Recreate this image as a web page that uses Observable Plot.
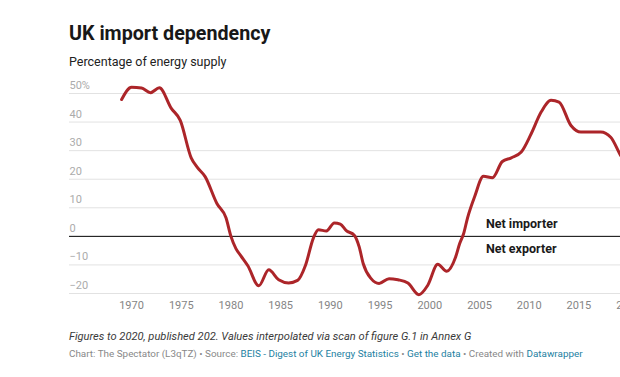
<!DOCTYPE html>
<html>
<head>
<meta charset="utf-8">
<script src="https://cdn.jsdelivr.net/npm/d3@7"></script>
<script src="https://cdn.jsdelivr.net/npm/@observablehq/plot@0.6"></script>
<style>
  html, body { margin: 0; padding: 0; background: #fff; overflow: hidden; }
  #wrap { position: relative; width: 620px; height: 377px; overflow: hidden; font-family: Roboto, sans-serif; }
  .t { position: absolute; left: 69px; white-space: nowrap; line-height: 1; }
  #title { top: 24px; font-size: 19.7px; font-weight: 700; color: #181818; }
  #subtitle { top: 56px; font-size: 12.5px; color: #222; }
  #note { top: 331px; font-size: 11.1px; font-style: italic; color: #3a3a3a; }
  #credit { top: 349px; font-size: 9.9px; color: #888; }
  #credit a { color: #1d81a2; text-decoration: none; }
  #plot { position: absolute; left: 0; top: 70px; width: 648px; }
  #plot svg { max-width: none !important; width: 648px !important; height: 253px !important; }
</style>
</head>
<body>
<div id="wrap">
  <div class="t" id="title">UK import dependency</div>
  <div class="t" id="subtitle">Percentage of energy supply</div>
  <div id="plot"></div>
  <div class="t" id="note">Figures to 2020, published 202. Values interpolated via scan of figure G.1 in Annex G</div>
  <div class="t" id="credit">Chart: The Spectator (L3qTZ) • Source: <a>BEIS - Digest of UK Energy Statistics</a> • <a>Get the data</a> • Created with <a>Datawrapper</a></div>
</div>
<script>
const years = [1969.0, 1970.0, 1971.0, 1971.9, 1972.8, 1974.0, 1974.9, 1976.0, 1976.6, 1977.4,
  1978.6, 1979.5, 1980.0, 1980.5, 1981.0, 1981.7, 1982.8, 1983.8, 1984.8, 1985.8,
  1986.7, 1987.5, 1988.3, 1988.8, 1989.6, 1990.4, 1991.0, 1991.6, 1992.4, 1992.9,
  1993.3, 1994.1, 1994.9, 1995.9, 1996.8, 1997.8, 1998.9, 1999.8, 2000.8, 2001.7,
  2002.6, 2003.0, 2003.4, 2003.8, 2004.5, 2005.4, 2006.3, 2007.3, 2008.2, 2009.2,
  2010.2, 2011.2, 2012.2, 2013.0, 2014.2, 2015.2, 2017.2, 2018.2, 2019.2, 2020.0];
const values = [47.9, 52.2, 51.9, 50.3, 52.0, 44.8, 40.6, 27.5, 24.2, 20.9,
  11.4, 6.5, 0.0, -4.3, -6.8, -10.3, -17.3, -11.7, -15.2, -16.3,
  -15.4, -10.1, -0.5, 2.3, 1.9, 4.7, 4.3, 2.0, 0.4, -3.7,
  -9.5, -14.8, -16.5, -14.8, -15.2, -16.3, -20.4, -17.1, -9.8, -12.2,
  -7.2, -2.6, 0.9, 6.5, 13.8, 21.0, 20.5, 26.2, 27.5, 29.5,
  35.9, 43.5, 47.6, 47.0, 38.8, 36.5, 36.5, 34.7, 28.3, 24.0];
const yTicks = [-20, -10, 0, 10, 20, 30, 40, 50];
const yTickLabels = ["−20", "−10", "0", "10", "20", "30", "40", "50%"];
const xTicks = [1970, 1975, 1980, 1985, 1990, 1995, 2000, 2005, 2010, 2015, 2020];
const annotationLabels = ["Net importer", "Net exporter"];
const annotationYears = [2005.65, 2005.65];
const annotationValues = [0, 0];

const data = years.map((y, i) => ({year: y, value: values[i]}));
const yLabelData = yTicks.map((v, i) => ({v, label: yTickLabels[i]}));
const ann = annotationLabels.map((l, i) => ({label: l, year: annotationYears[i], value: annotationValues[i]}));

const chart = Plot.plot({
  width: 648,
  height: 253,
  marginLeft: 69,
  marginRight: 0,
  marginTop: 23,
  marginBottom: 30,
  style: {fontFamily: "Roboto, sans-serif", fontSize: "11px", color: "#858585", background: "transparent"},
  x: {domain: [1963.76, 2022], ticks: xTicks, tickSize: 0, tickPadding: 8, tickFormat: d => String(d), label: null},
  y: {domain: [-20, 50], axis: null},
  marks: [
    Plot.ruleY(yTicks.filter(d => d !== 0), {stroke: "#e2e2e2", strokeWidth: 1}),
    Plot.ruleY([0], {stroke: "#000", strokeWidth: 1}),
    Plot.line(data, {x: "year", y: "value", curve: "monotone-x", stroke: "#ac2529", strokeWidth: 3, strokeLinejoin: "round", strokeLinecap: "round"}),
    Plot.text(yLabelData, {y: "v", text: "label", frameAnchor: "left", textAnchor: "start", dy: -8, fill: "#ababab", fontSize: 11}),
    Plot.text(ann.slice(0, 1), {x: "year", y: "value", text: "label", textAnchor: "start", dy: -12.5, fill: "#1a1a1a", fontSize: 12.5, fontWeight: 700}),
    Plot.text(ann.slice(1), {x: "year", y: "value", text: "label", textAnchor: "start", dy: 13, fill: "#1a1a1a", fontSize: 12.5, fontWeight: 700})
  ]
});
document.getElementById("plot").appendChild(chart);
</script>
</body>
</html>
